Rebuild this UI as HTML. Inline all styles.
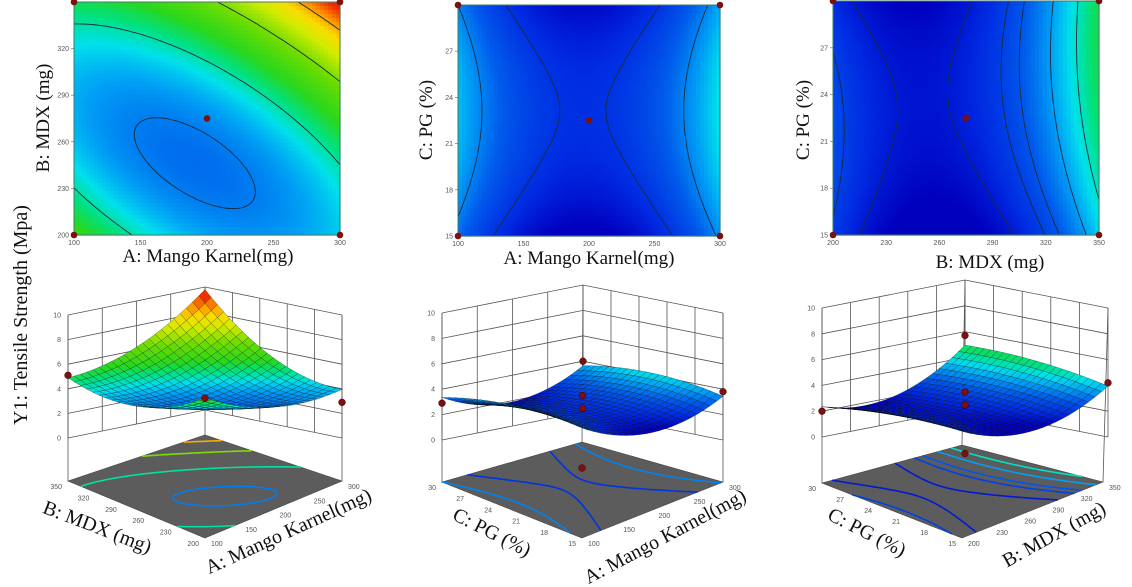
<!DOCTYPE html>
<html><head><meta charset="utf-8">
<style>
html,body{margin:0;padding:0;background:#fff;width:1132px;height:587px;overflow:hidden}
svg{display:block}
.ttl{font-family:"Liberation Serif",serif;fill:#111}
.tk{font-family:"Liberation Sans",sans-serif;font-size:7px;fill:#555}
</style></head>
<body>
<svg id="fig" width="1132" height="587" viewBox="0 0 1132 587">
<g id="plots"></g>
<text class="ttl" x="208" y="262" font-size="19" text-anchor="middle">A: Mango Karnel(mg)</text>
<text class="ttl" transform="translate(49,118) rotate(-90)" font-size="19" text-anchor="middle">B: MDX (mg)</text>
<text class="ttl" x="589" y="264" font-size="19" text-anchor="middle">A: Mango Karnel(mg)</text>
<text class="ttl" transform="translate(432,120) rotate(-90)" font-size="19" text-anchor="middle">C: PG (%)</text>
<text class="ttl" x="990" y="268" font-size="19" text-anchor="middle">B: MDX (mg)</text>
<text class="ttl" transform="translate(809,120) rotate(-90)" font-size="19" text-anchor="middle">C: PG (%)</text>
<text class="ttl" transform="translate(27,315) rotate(-90)" font-size="20" text-anchor="middle">Y1: Tensile Strength (Mpa)</text>
<text class="ttl" transform="translate(95,533) rotate(21)" font-size="20" text-anchor="middle">B: MDX (mg)</text>
<text class="ttl" transform="translate(291,537) rotate(-24.5)" font-size="20" text-anchor="middle">A: Mango Karnel(mg)</text>
<text class="ttl" transform="translate(489,538) rotate(27)" font-size="20" text-anchor="middle">C: PG (%)</text>
<text class="ttl" transform="translate(668,542) rotate(-28)" font-size="20" text-anchor="middle">A: Mango Karnel(mg)</text>
<text class="ttl" transform="translate(864,538) rotate(27)" font-size="20" text-anchor="middle">C: PG (%)</text>
<text class="ttl" transform="translate(1057,540) rotate(-29)" font-size="20" text-anchor="middle">B: MDX (mg)</text>
</svg>
<script>
// ---- data: quadratic model coefficients [b0, x, y, xy, xx, yy] (coded units) ----
const coefAB = [3.45, 0.825, 1.3, 1.625, 1.1, 1.5];
const coefAC = [2.4, 0.15, 0.1, 0.0, 1.6, -0.6];
const coefBC = [2.2, 1.0, 0.2, 0.3, 1.6, -0.35];
// tick labels
const ticksA = [100, 150, 200, 250, 300];
const ticksB = [200, 230, 260, 290, 320, 350];
const ticksC = [15, 18, 21, 24, 27, 30];
const ticksZ = [0, 2, 4, 6, 8, 10];
// contour levels
const levelsAB = [3.3, 4.45, 6.45, 8.45];
const levelsAC = [2.45, 3.35];
const levelsBC = [2.11, 2.63, 2.93, 3.59, 4.28];
// design points in 3D plots: [u, v, value]
const pointsAB = [[0, 1, 5.1], [1, 0, 2.9], [0.5, 0.5, 3.25]];
const pointsAC = [[0, 1, 2.9], [1, 1, 4.0], [1, 0, 3.8], [0.5, 0.5, 3.5], [0.5, 0.5, 2.5], [0, 0, 0.0]];
const pointsBC = [[0, 1, 2.0], [1, 1, 5.7], [1, 0, 4.2], [0.5, 0.5, 3.5], [0.5, 0.5, 2.5], [0, 0, 0.9]];
// colour scale
const cVals = [1.8, 2.3, 3.0, 3.6, 4.1, 4.6, 5.2, 6.3, 7.3, 8.0, 8.7, 9.4];
const cRGB = [[0,0,190],[0,40,225],[0,90,235],[0,160,245],[0,225,235],[0,225,130],[40,215,30],[110,220,0],[210,235,0],[250,220,0],[255,140,0],[235,40,0]];

const NS = 'http://www.w3.org/2000/svg';
const root = document.getElementById('plots');
function mk(tag, parent, attrs) {
  const el = document.createElementNS(NS, tag);
  for (const k in attrs) el.setAttribute(k, attrs[k]);
  parent.appendChild(el);
  return el;
}
function f(c, x, y) { return c[0] + c[1]*x + c[2]*y + c[3]*x*y + c[4]*x*x + c[5]*y*y; }
function cmap(v) {
  if (v <= cVals[0]) return 'rgb(' + cRGB[0].join(',') + ')';
  for (let i = 1; i < cVals.length; i++) {
    if (v <= cVals[i]) {
      const t = (v - cVals[i-1]) / (cVals[i] - cVals[i-1]);
      const a = cRGB[i-1], b = cRGB[i];
      return 'rgb(' + a.map((q, k) => Math.round(q + (b[k]-q)*t)).join(',') + ')';
    }
  }
  return 'rgb(' + cRGB[cRGB.length-1].join(',') + ')';
}
function contourPath(nx, ny, val, map, level) {
  let d = '';
  for (let j = 0; j < ny; j++) for (let i = 0; i < nx; i++) {
    const c = [[i,j],[i+1,j],[i+1,j+1],[i,j+1]];
    const vs = c.map(p => val[p[1]][p[0]]);
    const pts = [];
    for (let e = 0; e < 4; e++) {
      const a = vs[e], b = vs[(e+1)%4];
      if ((a < level) !== (b < level)) {
        const t = (level - a) / (b - a);
        const p = c[e], q = c[(e+1)%4];
        pts.push(map(p[0] + (q[0]-p[0])*t, p[1] + (q[1]-p[1])*t));
      }
    }
    for (let k = 0; k + 1 < pts.length; k += 2)
      d += 'M' + pts[k][0].toFixed(1) + ',' + pts[k][1].toFixed(1) + 'L' + pts[k+1][0].toFixed(1) + ',' + pts[k+1][1].toFixed(1);
  }
  return d;
}

// ---------------- top contour plots ----------------
function contourPlot(name, box, coef, levels, xt, yt) {
  const g = mk('g', root, {});
  
  
  const [x0, y0, x1, y1] = box, w = x1 - x0, h = y1 - y0;
  const n = 66, m = 58, cw = w / n, ch = h / m;
  for (let j = 0; j < m; j++) for (let i = 0; i < n; i++) {
    const xc = -1 + 2*(i+0.5)/n, yc = 1 - 2*(j+0.5)/m;
    const r = mk('rect', g, {x: (x0 + i*cw).toFixed(2), y: (y0 + j*ch).toFixed(2), width: (cw+0.6).toFixed(2), height: (ch+0.6).toFixed(2), fill: cmap(f(coef, xc, yc))});
    
    
  }
  const N = 60, val = [];
  for (let j = 0; j <= N; j++) { val.push([]); for (let i = 0; i <= N; i++) val[j].push(f(coef, -1 + 2*i/N, -1 + 2*j/N)); }
  const map = (gi, gj) => [x0 + gi/N*w, y1 - gj/N*h];
  levels.forEach(L => {
    const p = mk('path', g, {d: contourPath(N, N, val, map, L), stroke: '#1a2a3a', 'stroke-width': 0.9, fill: 'none'});
    
    
  });
  const fr = mk('rect', g, {x: x0, y: y0, width: w, height: h, fill: 'none', stroke: '#3c7c6c', 'stroke-width': 1});
  
  
  xt.forEach((t, k) => {
    const x = x0 + k/(xt.length-1)*w;
    const tx = mk('text', g, {x: x, y: y1 + 10, 'text-anchor': 'middle', class: 'tk'});
    tx.textContent = t;
    
    
  });
  yt.forEach((t, k) => {
    if (k === yt.length - 1) return;
    const y = y1 - k/(yt.length-1)*h;
    mk('line', g, {x1: x0 - 3, y1: y, x2: x0, y2: y, stroke: '#666', 'stroke-width': 0.6});
    const tx = mk('text', g, {x: x0 - 5, y: y + 2.5, 'text-anchor': 'end', class: 'tk'});
    tx.textContent = t;
    
    
  });
  [[x0,y0],[x1,y0],[x0,y1],[x1,y1],[(x0+x1)/2,(y0+y1)/2]].forEach(p => {
    const c = mk('circle', g, {cx: p[0], cy: p[1], r: 3.3, fill: '#7a1010'});
    
    
  });
}
contourPlot('contour-plot-a-b', [74, 2, 340, 235], coefAB, levelsAB, ticksA, ticksB);
contourPlot('contour-plot-a-c', [458, 5, 720, 236], coefAC, levelsAC, ticksA, ticksC);
contourPlot('contour-plot-b-c', [833, 1, 1099, 235], coefBC, levelsBC, ticksB, ticksC);

// ---------------- 3D surface plots ----------------
function surfacePlot(name, P, coef, levels, ut, vt, pts) {
  const g = mk('g', root, {});
  
  
  const bp = (u, v, z) => [P.F0[0] + u*(P.R0[0]-P.F0[0]) + v*(P.L0[0]-P.F0[0]),
                           P.F0[1] + u*(P.R0[1]-P.F0[1]) + v*(P.L0[1]-P.F0[1]) - z*P.zs];
  const fp = (u, v) => {
    const a = P.F, b = P.R, c = P.K, d = P.L;
    return [0,1].map(k => a[k]*(1-u)*(1-v) + b[k]*u*(1-v) + c[k]*u*v + d[k]*(1-u)*v);
  };
  const ps = a => a.map(p => p[0].toFixed(1) + ',' + p[1].toFixed(1)).join(' ');
  const fl = mk('polygon', g, {points: ps([fp(0,0), fp(1,0), fp(1,1), fp(0,1)]), fill: '#5c5c5c', stroke: '#444', 'stroke-width': 0.6});
  
  
  const N = 50, val = [];
  for (let j = 0; j <= N; j++) { val.push([]); for (let i = 0; i <= N; i++) val[j].push(f(coef, -1 + 2*i/N, -1 + 2*j/N)); }
  levels.forEach(L => {
    const p = mk('path', g, {d: contourPath(N, N, val, (gi, gj) => fp(gi/N, gj/N), L), stroke: cmap(L), 'stroke-width': 1.6, fill: 'none'});
    
    
  });
  const wl = {stroke: '#555', 'stroke-width': 0.8, fill: 'none'};
  ticksZ.forEach(z => {
    const a = bp(0,1,z), b = bp(1,1,z), c = bp(1,0,z);
    const l = mk('polyline', g, Object.assign({points: ps([a,b,c])}, wl));
    
    
    const t = mk('text', g, {x: a[0] - 7, y: a[1] + 2.5, 'text-anchor': 'end', class: 'tk'});
    t.textContent = z;
    
    
  });
  ut.forEach((t, k) => { const u = k/(ut.length-1); const a = bp(u,1,0), b = bp(u,1,10);
    const l = mk('line', g, Object.assign({x1:a[0],y1:a[1],x2:b[0],y2:b[1]}, wl));
    
     });
  vt.forEach((t, k) => { const v = k/(vt.length-1); const a = bp(1,v,0), b = bp(1,v,10);
    const l = mk('line', g, Object.assign({x1:a[0],y1:a[1],x2:b[0],y2:b[1]}, wl));
    
     });
  [[0,1],[1,0],[1,1]].forEach(c => { const a = bp(c[0],c[1],10), b = fp(c[0],c[1]);
    const l = mk('line', g, Object.assign({x1:a[0],y1:a[1],x2:b[0],y2:b[1]}, wl));
    
     });
  ut.forEach((t, k) => { const p = fp(k/(ut.length-1), 0);
    const tx = mk('text', g, {x: p[0] + 6, y: p[1] + 8, class: 'tk'});
    tx.textContent = t;
    
     });
  vt.forEach((t, k) => { const p = fp(0, k/(vt.length-1));
    const tx = mk('text', g, {x: p[0] - 6, y: p[1] + 8, 'text-anchor': 'end', class: 'tk'});
    tx.textContent = t;
    
     });
  const M = 22, quads = [];
  for (let j = 0; j < M; j++) for (let i = 0; i < M; i++) quads.push([i, j]);
  quads.sort((a, b) => (b[0] + b[1]) - (a[0] + a[1]));
  const z = (i, j) => f(coef, -1 + 2*i/M, -1 + 2*j/M);
  quads.forEach(q => {
    const [i, j] = q;
    const zs = [z(i,j), z(i+1,j), z(i+1,j+1), z(i,j+1)];
    const pp = [bp(i/M,j/M,zs[0]), bp((i+1)/M,j/M,zs[1]), bp((i+1)/M,(j+1)/M,zs[2]), bp(i/M,(j+1)/M,zs[3])];
    const avg = (zs[0]+zs[1]+zs[2]+zs[3])/4;
    const pg = mk('polygon', g, {points: ps(pp), fill: cmap(avg), stroke: 'rgba(0,0,0,0.45)', 'stroke-width': 0.5});
    
    
  });
  pts.forEach(p => {
    const s = bp(p[0], p[1], p[2]);
    const c = mk('circle', g, {cx: s[0], cy: s[1], r: 3.4, fill: '#7a1010', stroke: '#400', 'stroke-width': 0.5});
    
    
  });
}
surfacePlot('surface-plot-a-b',
  {F0:[205,466], R0:[342,438], L0:[68,438], zs:12.3, F:[205,538], R:[342,481], L:[68,481], K:[205,435]},
  coefAB, levelsAB, ticksA, ticksB, pointsAB);
surfacePlot('surface-plot-a-c',
  {F0:[582,468], R0:[723,440], L0:[442,440], zs:12.7, F:[582,538], R:[723,482], L:[442,482], K:[582,442]},
  coefAC, levelsAC, ticksA, ticksC, pointsAC);
surfacePlot('surface-plot-b-c',
  {F0:[965,465], R0:[1108,437], L0:[822,437], zs:12.9, F:[962,538], R:[1103,482], L:[822,483], K:[962,445]},
  coefBC, levelsBC, ticksB, ticksC, pointsBC);
</script>
</body></html>
